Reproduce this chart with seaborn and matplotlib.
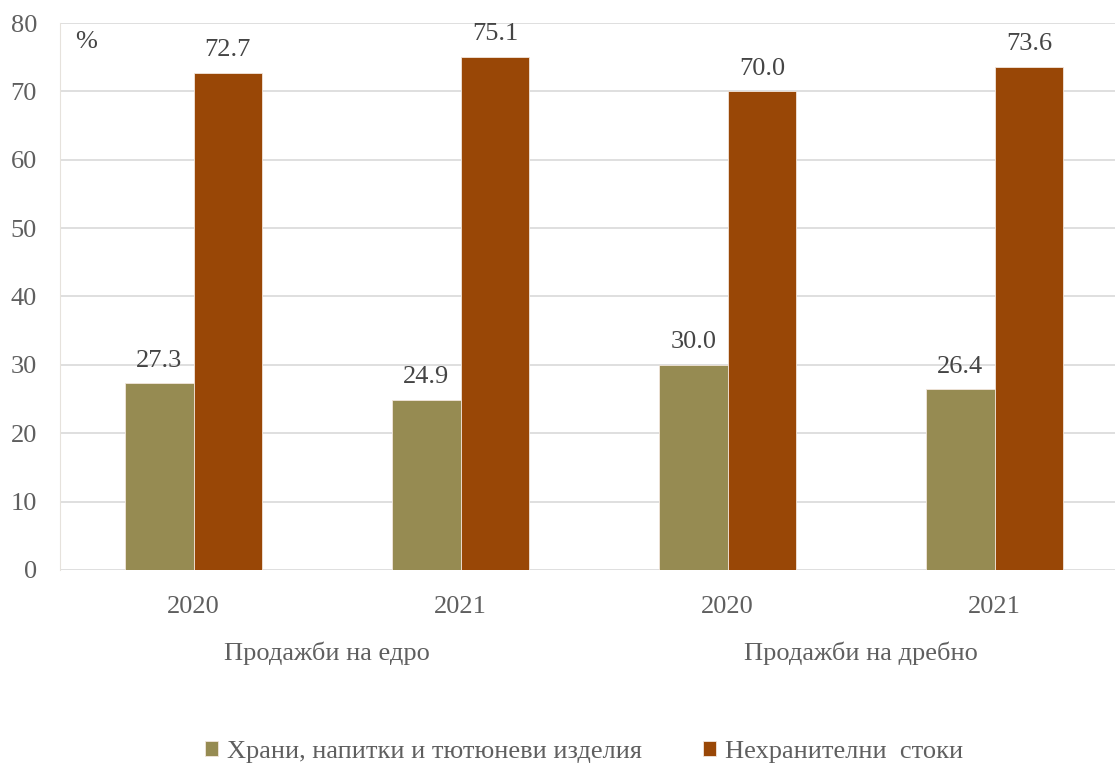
import numpy as np
import pandas as pd
import matplotlib.pyplot as plt
import seaborn as sns

# Data
years = ['2020', '2021', '2020', '2021']
groups = ['Продажби на едро', 'Продажби на дребно']
series = ['Храни, напитки и тютюневи изделия', 'Нехранителни  стоки']
food = [27.3, 24.9, 30.0, 26.4]
nonfood = [72.7, 75.1, 70.0, 73.6]
colors = ['#968B52', '#994706']

slots = [f'{i}' for i in range(len(years))]
df = pd.DataFrame({
    'slot': slots * 2,
    'value': food + nonfood,
    'series': [series[0]] * len(food) + [series[1]] * len(nonfood),
})

sns.set_style('white')
plt.rcParams['font.family'] = ['Liberation Serif', 'DejaVu Serif']
text_col = '#5f5f5f'
fs = 19

fig = plt.figure(figsize=(11.15, 7.72), dpi=100)
ax = fig.add_axes([0.0538, 0.2617, 0.958, 0.7085])

sns.barplot(data=df, x='slot', y='value', hue='series', order=slots,
            hue_order=series, palette=colors, width=0.515, ax=ax,
            edgecolor='#f2e6dc', linewidth=0.6, saturation=1, legend=True)

ax.set_ylim(0, 80)
ax.set_xlim(-0.5, 3.5)
ax.set_yticks(np.arange(0, 81, 10))
ax.yaxis.grid(True, color='#D9D9D9', linewidth=1.2)
ax.set_axisbelow(True)
for s in ['top', 'right', 'bottom']:
    ax.spines[s].set_visible(False)
ax.spines['left'].set_color('#E6E2DC')
ax.tick_params(axis='both', length=0, labelsize=fs, colors=text_col)
ax.tick_params(axis='x', pad=19)
ax.tick_params(axis='y', pad=16.5)
ax.set_xticks(range(len(years)))
ax.set_xticklabels(years)
ax.set_xlabel('')
ax.set_ylabel('')

for cont in ax.containers:
    ax.bar_label(cont, fmt='%.1f', padding=8.5, fontsize=fs, color='#454545')

ax.text(0.014, 0.985, '%', transform=ax.transAxes, fontsize=fs,
        color='#454545', va='top', ha='left')

for i, g in enumerate(groups):
    ax.text(2 * i + 0.5, -12.2, g, ha='center', va='center',
            fontsize=fs, color=text_col)

handles, labels = ax.get_legend_handles_labels()
ax.legend_.remove()
fig.legend(handles, labels, loc='center', bbox_to_anchor=(0.524, 0.026),
           ncol=2, frameon=False, fontsize=fs, handlelength=0.5,
           handleheight=0.5, handletextpad=0.35, columnspacing=2.3,
           labelcolor=text_col)

fig.savefig('out.png', dpi=100)
